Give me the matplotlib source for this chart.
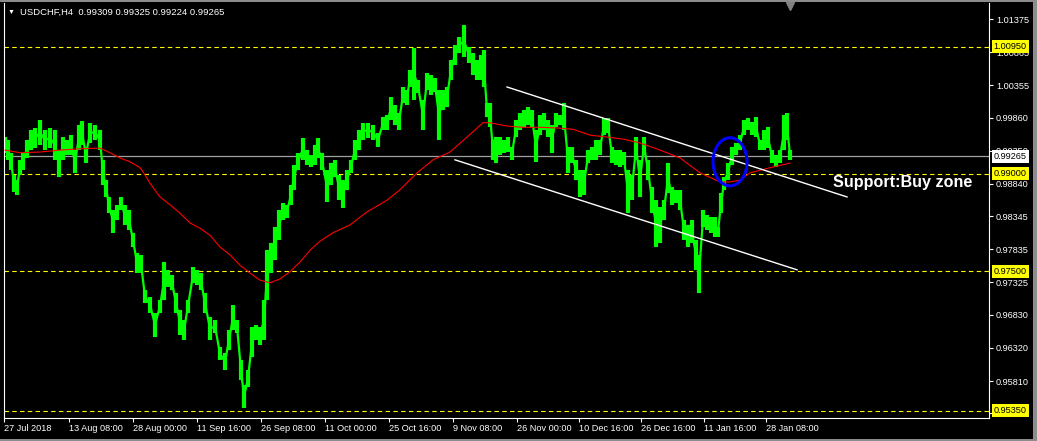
import matplotlib
matplotlib.use('Agg')
import matplotlib.pyplot as plt
from matplotlib.patches import Ellipse, Rectangle

plt.rcParams['font.family'] = ['Liberation Sans', 'DejaVu Sans']

# USDCHF H4 - bar number (H4 bars since 27 Jul 2018) with high / low
bars = [1, 4, 7, 10, 13, 16, 19, 23, 27, 31,
        36, 41, 46, 51, 55, 59, 63, 67, 71, 75,
        78, 82, 86, 91, 96, 99, 102, 105, 109, 113,
        117, 121, 125, 129, 133, 137, 141, 146, 151, 156,
        160, 164, 168, 172, 176, 180, 184, 189, 193, 197,
        201, 206, 211, 216, 221, 225, 229, 233, 237, 240,
        244, 248, 252, 256, 260, 263, 267, 271, 275, 279,
        283, 287, 290, 294, 299, 303, 307, 311, 314, 318,
        323, 327, 331, 335, 339, 343, 347, 351, 355, 359,
        364, 369, 374, 379, 383, 387, 391, 395, 399, 403,
        406, 410, 414, 419, 423, 427, 431, 435, 439, 443,
        447, 451, 455, 460, 465, 469, 473, 477, 480, 483,
        486, 489, 492, 496, 500, 504, 508, 512, 516, 520,
        524, 528, 532, 536, 540, 544, 548, 552, 556, 560,
        564, 568, 572, 576, 580, 584, 588, 592, 596, 600,
        604, 608, 612, 616, 620, 624, 628, 632, 636, 640,
        644, 648, 652, 656, 660, 664, 668, 672, 676, 680,
        684, 688, 692, 695, 699, 703, 707, 711, 714, 717,
        720, 724, 728, 732, 736, 740, 744, 748, 752, 756,
        760, 764, 768, 772, 776, 780, 783, 786]
high = [0.9956, 0.9952, 0.9932, 0.9898, 0.9890, 0.9921, 0.9932, 0.9952, 0.9967, 0.9970,
        0.9982, 0.9967, 0.9970, 0.9967, 0.9936, 0.9956, 0.9952, 0.9959, 0.9936, 0.9975,
        0.9981, 0.9941, 0.9978, 0.9975, 0.9967, 0.9921, 0.9890, 0.9864, 0.9844, 0.9852,
        0.9864, 0.9852, 0.9844, 0.9809, 0.9778, 0.9775, 0.9721, 0.9710, 0.9686, 0.9706,
        0.9764, 0.9752, 0.9744, 0.9716, 0.9690, 0.9675, 0.9706, 0.9756, 0.9752, 0.9747,
        0.9716, 0.9679, 0.9675, 0.9633, 0.9624, 0.9659, 0.9698, 0.9675, 0.9613, 0.9575,
        0.9598, 0.9664, 0.9667, 0.9664, 0.9706, 0.9782, 0.9793, 0.9818, 0.9844, 0.9855,
        0.9852, 0.9882, 0.9913, 0.9932, 0.9955, 0.9936, 0.9928, 0.9944, 0.9955, 0.9932,
        0.9905, 0.9916, 0.9921, 0.9898, 0.9890, 0.9905, 0.9921, 0.9952, 0.9967, 0.9978,
        0.9978, 0.9975, 0.9962, 0.9987, 0.9990, 1.0018, 1.0005, 0.9993, 1.0033, 1.0028,
        1.0059, 1.0093, 1.0044, 1.0013, 1.0055, 1.0051, 1.0047, 1.0028, 1.0028, 1.0033,
        1.0074, 1.0098, 1.0110, 1.0128, 1.0094, 1.0085, 1.0074, 1.0082, 1.0090, 1.0008,
        1.0008, 0.9952, 0.9956, 0.9956, 0.9952, 0.9956, 0.9941, 0.9982, 0.9993, 0.9998,
        1.0002, 0.9998, 0.9967, 0.9990, 0.9993, 0.9982, 0.9975, 0.9993, 0.9990, 1.0008,
        0.9941, 0.9941, 0.9921, 0.9905, 0.9905, 0.9936, 0.9941, 0.9952, 0.9952, 0.9985,
        0.9985, 0.9941, 0.9936, 0.9936, 0.9933, 0.9905, 0.9898, 0.9956, 0.9921, 0.9956,
        0.9921, 0.9879, 0.9859, 0.9849, 0.9859, 0.9916, 0.9879, 0.9875, 0.9875, 0.9829,
        0.9821, 0.9829, 0.9798, 0.9775, 0.9844, 0.9836, 0.9833, 0.9833, 0.9818, 0.9870,
        0.9895, 0.9916, 0.9941, 0.9947, 0.9959, 0.9982, 0.9985, 0.9979, 0.9987, 0.9952,
        0.9967, 0.9971, 0.9936, 0.9928, 0.9936, 0.9990, 0.9993, 0.9936]
low = [0.9932, 0.9921, 0.9905, 0.9872, 0.9867, 0.9898, 0.9905, 0.9924, 0.9936, 0.9939,
       0.9944, 0.9936, 0.9939, 0.9921, 0.9895, 0.9921, 0.9928, 0.9928, 0.9901, 0.9936,
       0.9944, 0.9916, 0.9947, 0.9952, 0.9936, 0.9882, 0.9864, 0.9839, 0.9809, 0.9829,
       0.9844, 0.9821, 0.9813, 0.9787, 0.9747, 0.9747, 0.9701, 0.9686, 0.9649, 0.9686,
       0.9706, 0.9726, 0.9721, 0.9686, 0.9652, 0.9644, 0.9686, 0.9732, 0.9729, 0.9721,
       0.9686, 0.9644, 0.9655, 0.9613, 0.9598, 0.9629, 0.9659, 0.9655, 0.9583, 0.9540,
       0.9572, 0.9618, 0.9644, 0.9636, 0.9644, 0.9706, 0.9747, 0.9767, 0.9798, 0.9829,
       0.9832, 0.9852, 0.9875, 0.9905, 0.9921, 0.9913, 0.9910, 0.9913, 0.9924, 0.9905,
       0.9856, 0.9882, 0.9895, 0.9859, 0.9847, 0.9875, 0.9901, 0.9921, 0.9936, 0.9952,
       0.9955, 0.9952, 0.9941, 0.9967, 0.9967, 0.9982, 0.9975, 0.9967, 1.0008, 1.0005,
       1.0033, 1.0013, 1.0024, 0.9967, 1.0028, 1.0021, 1.0025, 0.9952, 0.9998, 1.0002,
       1.0044, 1.0067, 1.0085, 1.0079, 1.0070, 1.0051, 1.0044, 1.0044, 1.0033, 0.9987,
       0.9971, 0.9921, 0.9916, 0.9928, 0.9932, 0.9933, 0.9921, 0.9956, 0.9967, 0.9971,
       0.9975, 0.9971, 0.9918, 0.9959, 0.9967, 0.9956, 0.9932, 0.9971, 0.9975, 0.9967,
       0.9901, 0.9916, 0.9890, 0.9864, 0.9867, 0.9916, 0.9921, 0.9921, 0.9928, 0.9959,
       0.9962, 0.9916, 0.9913, 0.9910, 0.9913, 0.9839, 0.9859, 0.9921, 0.9864, 0.9928,
       0.9890, 0.9839, 0.9787, 0.9793, 0.9829, 0.9870, 0.9852, 0.9855, 0.9844, 0.9798,
       0.9787, 0.9793, 0.9752, 0.9716, 0.9818, 0.9813, 0.9809, 0.9802, 0.9802, 0.9839,
       0.9875, 0.9890, 0.9913, 0.9928, 0.9936, 0.9959, 0.9967, 0.9959, 0.9956, 0.9936,
       0.9936, 0.9939, 0.9916, 0.9910, 0.9916, 0.9936, 0.9952, 0.9921]

# red moving average
ma_bars = [1, 16, 36, 56, 76, 96, 106, 116, 126, 136, 141, 146, 156, 166, 176, 186,
           196, 206, 216, 226, 236, 246, 256, 266, 276, 286, 296, 306, 316, 329, 346,
           363, 383, 396, 413, 429, 446, 463, 479, 486, 503, 519, 536, 553, 569, 586,
           603, 619, 636, 656, 676, 696, 716, 726, 736, 746, 756, 769, 786]
ma = [0.9936, 0.9932, 0.9933, 0.9936, 0.9938, 0.9939, 0.9932, 0.9924, 0.9918, 0.9909,
      0.9898, 0.9885, 0.9864, 0.9852, 0.9839, 0.9824, 0.9816, 0.9805, 0.9787, 0.9775,
      0.9759, 0.9747, 0.9736, 0.9732, 0.9738, 0.9749, 0.9764, 0.9782, 0.9796, 0.9809,
      0.9821, 0.9841, 0.9859, 0.9875, 0.9901, 0.9921, 0.9933, 0.9956, 0.9978, 0.9978,
      0.9973, 0.9971, 0.9971, 0.9970, 0.9968, 0.9959, 0.9956, 0.9953, 0.9947, 0.9936,
      0.9924, 0.9901, 0.9887, 0.9887, 0.9890, 0.9901, 0.9905, 0.9910, 0.9916]

# support / resistance levels and the channel
levels = [1.00950, 0.99000, 0.97500, 0.95350]
last_price = 0.99265
chan_upper = ([503, 843], [1.0033, 0.9864])
chan_lower = ([451, 793], [0.9921, 0.9752])

yticks = [1.01375, 1.00865, 1.00355, 0.99860, 0.99350, 0.98840, 0.98345,
          0.97835, 0.97325, 0.96830, 0.96320, 0.95810, 0.95315]
xticks = [0, 65, 129, 193, 257, 321, 385, 449, 513, 575, 637, 700, 762]
xlabels = ['27 Jul 2018', '13 Aug 08:00', '28 Aug 00:00', '11 Sep 16:00', '26 Sep 08:00',
           '11 Oct 00:00', '25 Oct 16:00', '9 Nov 08:00', '26 Nov 00:00', '10 Dec 16:00',
           '26 Dec 16:00', '11 Jan 16:00', '28 Jan 08:00']

fig = plt.figure(figsize=(10.37, 4.41), dpi=100, facecolor='black')
ax = fig.add_axes([4 / 1037, 23 / 441, 985 / 1037, 415 / 441], facecolor='black')
ax.set_xlim(0, 985)
ax.set_ylim(0.95242, 1.01621)

# window borders
for r in [(0, 1 - 2 / 441, 1, 2 / 441), (0, 0, 1, 2 / 441), (1 - 4 / 1037, 0, 4 / 1037, 1)]:
    fig.add_artist(Rectangle(r[:2], r[2], r[3], transform=fig.transFigure,
                             facecolor='#8c8c8c', edgecolor='none'))

for lv in levels:
    ax.axhline(lv, color='#ffff00', lw=0.8, ls=(0, (4, 3)), zorder=1)
ax.axhline(last_price, color='#a0a0a0', lw=0.9, zorder=1)

ax.plot(ma_bars, ma, color='#ff0000', lw=0.8, zorder=3)
ax.vlines(bars, low, high, color='#00ff00', lw=3.0, zorder=2)
ax.plot(bars, [(h + l) / 2 for h, l in zip(high, low)], color='#00ff00', lw=1.6, zorder=2)

ax.plot(*chan_upper, color='white', lw=1, zorder=4)
ax.plot(*chan_lower, color='white', lw=1, zorder=4)
ax.add_patch(Ellipse((726, 0.9918), 34, 0.0074, facecolor='none', edgecolor='#0000ff',
                     lw=2.2, zorder=5))
ax.text(829, 0.9879, 'Support:Buy zone', color='white', fontsize=11.6, fontweight='bold',
        va='baseline', ha='left', zorder=6)

ax.plot(786, 1.0158, marker='v', color='#808080', ms=6, clip_on=False)

for s in ['left', 'right', 'bottom']:
    ax.spines[s].set_color('white')
ax.spines['top'].set_visible(False)

ax.yaxis.tick_right()
ax.set_yticks(yticks)
ax.set_yticklabels(['%.5f' % v for v in yticks])
ax.tick_params(axis='y', colors='white', length=3, pad=2, labelsize=6.6)
ax.set_xticks(xticks)
ax.set_xticklabels(xlabels)
ax.tick_params(axis='x', colors='white', length=3, pad=1, labelsize=6.6)
for t in ax.get_xticklabels():
    t.set_ha('left')

for lv in levels:
    ax.text(1.0048, lv, '%.5f' % lv, transform=ax.get_yaxis_transform(), va='center',
            ha='left', fontsize=6.6, color='black',
            bbox=dict(boxstyle='square,pad=0.22', facecolor='#ffff00', edgecolor='none'))
ax.text(1.0048, last_price, '%.5f' % last_price, transform=ax.get_yaxis_transform(),
        va='center', ha='left', fontsize=6.6, color='black',
        bbox=dict(boxstyle='square,pad=0.22', facecolor='white', edgecolor='none'))

fig.text(8 / 1037, 1 - 12 / 441, '\u25bc', color='white', fontsize=5, va='center')
fig.text(20 / 1037, 1 - 12 / 441, 'USDCHF,H4  0.99309 0.99325 0.99224 0.99265',
         color='white', fontsize=6.8, va='center')

fig.savefig('out.png', dpi=100, facecolor='black')
